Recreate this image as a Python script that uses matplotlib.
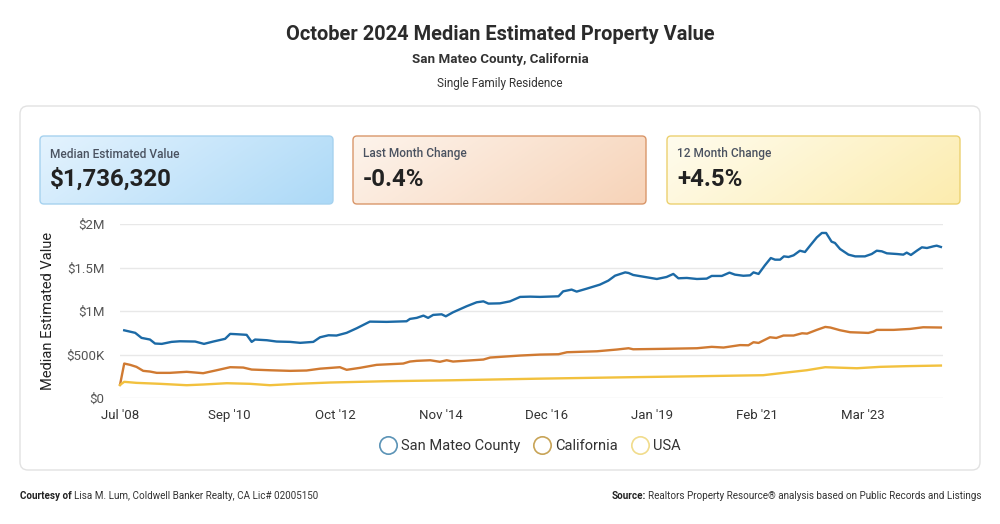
import numpy as np
import matplotlib
matplotlib.use("Agg")
import matplotlib.pyplot as plt
from matplotlib.patches import FancyBboxPatch
from matplotlib.lines import Line2D

plt.rcParams['font.family'] = ['Roboto', 'DejaVu Sans']

# ---------------- data (months since Jul 2008, values in $) ----------------
sm_months = [1, 3.6, 5.1, 7.1, 8.3, 9.9, 12.2, 14.2, 17.8, 19.9, 22.1, 24.9, 26.1, 27.7, 30, 31.2, 32,
             34.8, 37.1, 40.3, 42.7, 45.8, 47.4, 49.4, 51.3, 53.7, 56.1, 59.2, 63.2, 67.9, 68.7, 70.3,
             71.9, 73, 74.2, 76.2, 77.2, 78.9, 82.1, 84.5, 86.1, 87.3, 90, 92.4, 94.8, 97.2, 99.5,
             103.9, 105, 107, 108.2, 110.6, 113.7, 115.7, 117.3, 119.7, 120.5, 121.6, 124.4, 127.2,
             129.5, 131.1, 132.3, 134.3, 136.7, 139, 140.2, 142.6, 144.4, 145.7, 147.7, 149.3, 150.1,
             151.3, 152.8, 154.2, 155.2, 156.4, 157.3, 158.4, 159.6, 161.1, 162.3, 163.5, 165.1,
             166.3, 167.3, 168.6, 169.4, 170.6, 172.6, 174.2, 176.5, 178.1, 179.3, 180.5, 181.7,
             184.1, 185.6, 186.4, 187.4, 188.8, 190, 191.2, 192.7, 193.5, 194.5]
sm_values = [778e3, 749e3, 691e3, 672e3, 626e3, 622e3, 645e3, 652e3, 649e3, 622e3, 649e3, 680e3, 737e3,
             733e3, 726e3, 645e3, 672e3, 664e3, 649e3, 645e3, 634e3, 645e3, 698e3, 721e3, 718e3,
             749e3, 802e3, 878e3, 875e3, 882e3, 909e3, 921e3, 947e3, 921e3, 955e3, 962e3, 939e3,
             985e3, 1054e3, 1100e3, 1111e3, 1085e3, 1088e3, 1111e3, 1162e3, 1165e3, 1162e3, 1169e3,
             1226e3, 1246e3, 1223e3, 1257e3, 1303e3, 1349e3, 1406e3, 1444e3, 1437e3, 1414e3, 1391e3,
             1368e3, 1391e3, 1426e3, 1376e3, 1380e3, 1368e3, 1372e3, 1403e3, 1403e3, 1441e3, 1418e3,
             1405e3, 1410e3, 1444e3, 1426e3, 1525e3, 1609e3, 1590e3, 1590e3, 1628e3, 1621e3, 1640e3,
             1693e3, 1678e3, 1751e3, 1846e3, 1897e3, 1897e3, 1797e3, 1782e3, 1713e3, 1648e3, 1628e3,
             1628e3, 1655e3, 1693e3, 1686e3, 1663e3, 1655e3, 1648e3, 1671e3, 1644e3, 1693e3, 1732e3,
             1724e3, 1743e3, 1751e3, 1736e3]

ca_months = [0, 1, 2.4, 3.9, 5.5, 7.1, 8.7, 11.8, 15.8, 19.7, 22.9, 26.1, 29.2, 31.2, 35.5, 40.3, 44.2,
             47.4, 52.1, 53.7, 56.9, 60.8, 67.1, 68.7, 70.3, 73.5, 75.8, 77.4, 78.9, 86.1, 87.7, 94.8,
             99.5, 103.9, 105.9, 113, 117.7, 120.5, 121.6, 128.7, 136.7, 140.2, 143, 146.9, 148.9,
             150.1, 151.3, 154, 155.5, 157.2, 159.6, 161.6, 162.8, 165.1, 167.1, 168.3, 170.6, 173,
             175.3, 177.3, 178.5, 179.3, 183.3, 187.2, 190.3, 194.5]
ca_values = [150e3, 396e3, 381e3, 358e3, 312e3, 304e3, 289e3, 289e3, 301e3, 285e3, 319e3, 354e3, 350e3,
             327e3, 319e3, 312e3, 316e3, 337e3, 354e3, 324e3, 347e3, 381e3, 396e3, 419e3, 427e3,
             434e3, 416e3, 434e3, 419e3, 442e3, 465e3, 488e3, 499e3, 503e3, 526e3, 537e3, 557e3,
             572e3, 560e3, 565e3, 572e3, 588e3, 580e3, 608e3, 606e3, 641e3, 633e3, 698e3, 690e3,
             718e3, 718e3, 744e3, 740e3, 783e3, 817e3, 810e3, 779e3, 756e3, 752e3, 748e3, 763e3,
             783e3, 783e3, 794e3, 813e3, 810e3]

us_months = [0, 1, 3.9, 9.5, 15.8, 19.7, 25.3, 30.8, 35.5, 41.9, 49.8, 63.2, 78.9, 99, 120.9, 136.7,
             146.9, 152.4, 157.2, 162.7, 167.1, 174.6, 180.1, 186.4, 194.5]
us_values = [150e3, 186e3, 174e3, 163e3, 147e3, 155e3, 170e3, 163e3, 147e3, 163e3, 178e3, 193e3, 204e3,
             222e3, 239e3, 250e3, 258e3, 262e3, 289e3, 319e3, 354e3, 342e3, 358e3, 366e3, 373e3]

series_names = ["San Mateo County", "California", "USA"]
line_colors = ["#1c6aa6", "#d07a32", "#f2c13e"]
legend_edge = ["#5b93b6", "#c8a457", "#f1dc8c"]

tick_months = [0, 26, 51, 76, 101, 126, 151, 176]
tick_labels = ["Jul '08", "Sep '10", "Oct '12", "Nov '14", "Dec '16", "Jan '19", "Feb '21", "Mar '23"]
y_ticks = [0, 500e3, 1e6, 1.5e6, 2e6]
y_labels = ["$0", "$500K", "$1M", "$1.5M", "$2M"]

cards = [("Median Estimated Value", "$1,736,320"),
         ("Last Month Change", "-0.4%"),
         ("12 Month Change", "+4.5%")]

# ---------------- figure ----------------
W, H = 1000, 524
fig = plt.figure(figsize=(W / 100, H / 100), dpi=100)
fig.patch.set_facecolor("white")

bg = fig.add_axes([0, 0, 1, 1], zorder=0)
bg.set_xlim(0, W)
bg.set_ylim(H, 0)
bg.axis("off")

# titles
bg.text(500, 34, "October 2024 Median Estimated Property Value", ha="center", va="center",
        fontsize=14.4, fontweight="bold", color="#2b2b2b")
bg.text(500, 59, "San Mateo County, California", ha="center", va="center",
        fontsize=9.6, fontweight="bold", color="#333333")
bg.text(500, 83, "Single Family Residence", ha="center", va="center",
        fontsize=8.5, color="#333333")

# outer card
card = FancyBboxPatch((20, 106), 960, 364, boxstyle="round,pad=0,rounding_size=8",
                      facecolor="white", edgecolor="#e2e2e2", linewidth=1.0)
bg.add_patch(card)

# stat boxes with gradients
box_specs = [
    (40, ("#e4f3fe", "#acd9f7"), "#a6d2ef"),
    (353, ("#fdf4ec", "#f7d3b8"), "#d9976a"),
    (667, ("#fffcee", "#fcecae"), "#ecd170"),
]
for (x0, (c1, c2), ec), (lab, val) in zip(box_specs, cards):
    w, h, y0 = 293, 68, 136
    patch = FancyBboxPatch((x0, y0), w, h, boxstyle="round,pad=0,rounding_size=4",
                           facecolor="none", edgecolor=ec, linewidth=1.0, zorder=3)
    bg.add_patch(patch)
    ca = np.array(matplotlib.colors.to_rgb(c1))
    cb = np.array(matplotlib.colors.to_rgb(c2))
    gx = np.linspace(0, 1, 200)[None, :]
    gy = np.linspace(0, 1, 50)[:, None]
    t = np.clip(0.75 * gx + 0.25 * gy, 0, 1)
    img = ca[None, None, :] * (1 - t[..., None]) + cb[None, None, :] * t[..., None]
    im = bg.imshow(img, extent=(x0, x0 + w, y0 + h, y0), aspect="auto", zorder=2,
                   interpolation="bilinear")
    clip = FancyBboxPatch((x0, y0), w, h, boxstyle="round,pad=0,rounding_size=4",
                          facecolor="none", edgecolor="none", transform=bg.transData)
    bg.add_patch(clip)
    im.set_clip_path(clip)
    bg.text(x0 + 10, 154, lab, ha="left", va="center", fontsize=8.6, fontweight="medium",
            color="#4a5260", zorder=4)
    bg.text(x0 + 10, 179, val, ha="left", va="center", fontsize=17.3, fontweight="bold",
            color="#222222", zorder=4)
bg.set_xlim(0, W)
bg.set_ylim(H, 0)

# footer
fs_foot = 7.1
t1 = bg.text(20, 496, "Courtesy of", ha="left", va="center", fontsize=fs_foot, fontweight="bold",
             color="#222222")
fig.canvas.draw()
bb = t1.get_window_extent()
bg.text(20 + bb.width + 2, 496, "Lisa M. Lum, Coldwell Banker Realty, CA Lic# 02005150",
        ha="left", va="center", fontsize=fs_foot, color="#333333")
t2 = bg.text(981, 496, "Realtors Property Resource\u00ae analysis based on Public Records and Listings",
             ha="right", va="center", fontsize=fs_foot, color="#333333")
fig.canvas.draw()
bb2 = t2.get_window_extent()
bg.text(981 - bb2.width - 2, 496, "Source:", ha="right", va="center", fontsize=fs_foot,
        fontweight="bold", color="#222222")

# ---------------- chart ----------------
left_px, right_px, top_px, bot_px = 120, 943, 224, 398
ax = fig.add_axes([left_px / W, 1 - bot_px / H, (right_px - left_px) / W, (bot_px - top_px) / H],
                  zorder=5)
ax.set_facecolor("none")
for m, v, c in zip([sm_months, ca_months, us_months], [sm_values, ca_values, us_values], line_colors):
    ax.plot(m, v, color=c, linewidth=1.7, solid_joinstyle="round", clip_on=False)
ax.set_xlim(0, 195)
ax.set_ylim(0, 2e6)
ax.set_yticks(y_ticks)
ax.set_yticklabels(y_labels)
ax.set_xticks(tick_months)
ax.set_xticklabels(tick_labels)
ax.grid(axis="y", color="#e8e8e8", linewidth=1.0)
ax.set_axisbelow(True)
for s in ax.spines.values():
    s.set_visible(False)
ax.tick_params(axis="both", length=0, labelsize=9.5, colors="#555555")
ax.tick_params(axis="y", pad=11)
ax.tick_params(axis="x", pad=8, labelcolor="#333333")
ax.set_ylabel("Median Estimated Value", fontsize=10.5, color="#222222")
ax.yaxis.set_label_coords(-(120 - 55) / (right_px - left_px), 0.5)

handles = [Line2D([], [], marker="o", linestyle="none", markerfacecolor="none",
                  markeredgecolor=ec, markeredgewidth=1.2, markersize=12.5) for ec in legend_edge]
fig.legend(handles, series_names, loc="center", bbox_to_anchor=(530 / W, 1 - 446 / H),
           ncol=3, frameon=False, fontsize=10.5, handlelength=1.2, handletextpad=0.3,
           columnspacing=0.9, labelcolor="#333333")

fig.savefig("out.png", dpi=100, facecolor="white")
